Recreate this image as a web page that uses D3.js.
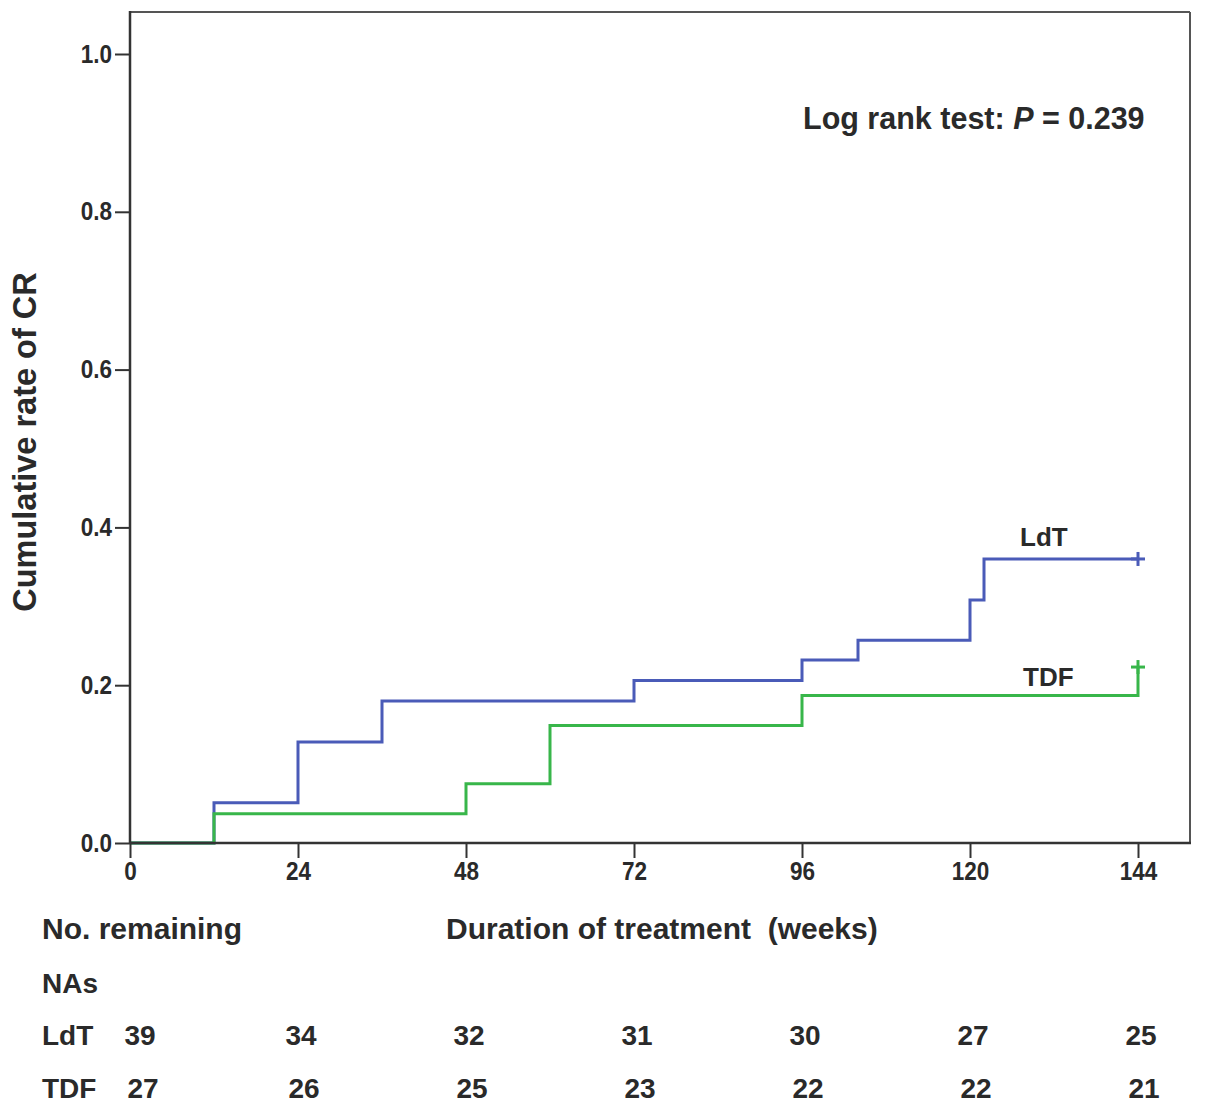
<!DOCTYPE html>
<html>
<head>
<meta charset="utf-8">
<script src="https://cdn.jsdelivr.net/npm/d3@7/dist/d3.min.js"></script>
<style>
  html, body { margin: 0; padding: 0; background: #fff; }
  svg { display: block; }
</style>
</head>
<body>
<svg id="chart" width="1205" height="1111"></svg>
<script>
// ---- data ----
const xTicks = [0, 24, 48, 72, 96, 120, 144];
const yTicks = [0.0, 0.2, 0.4, 0.6, 0.8, 1.0];

const ldtTimes = [0, 12, 24, 36, 72, 96, 104, 120, 122, 144];
const ldtRates = [0, 0.051, 0.128, 0.180, 0.206, 0.232, 0.257, 0.308, 0.360, 0.360];

const tdfTimes = [0, 12, 48, 60, 96, 144, 144];
const tdfRates = [0, 0.037, 0.075, 0.149, 0.187, 0.187, 0.223];

const ldtCensor = [144];
const ldtCensorRate = [0.360];
const tdfCensor = [144];
const tdfCensorRate = [0.223];

const riskTimes = [0, 24, 48, 72, 96, 120, 144];
const ldtAtRisk = [39, 34, 32, 31, 30, 27, 25];
const tdfAtRisk = [27, 26, 25, 23, 22, 22, 21];

const seriesNames = ["LdT", "TDF"];
const colors = ["#4a5bb8", "#38b64a"];

(function () {
// ---- layout ----
const svg = d3.select("#chart");
const pLeft = 130, pRight = 1190, pTop = 12, pBottom = 843;
const x = d3.scaleLinear().domain([0, 144]).range([130, 1138]);
const y = d3.scaleLinear().domain([0, 1]).range([843, 54]);

const textColor = "#2a2a2a";
const tickFont = "'Liberation Sans Narrow', 'Arial Narrow', 'Liberation Sans', sans-serif";
const mainFont = "'Liberation Sans', Arial, sans-serif";

// frame top/right
svg.append("line").attr("x1", pLeft).attr("x2", pRight).attr("y1", pTop).attr("y2", pTop)
  .attr("stroke", "#555").attr("stroke-width", 2);
svg.append("line").attr("x1", pRight).attr("x2", pRight).attr("y1", pTop).attr("y2", pBottom)
  .attr("stroke", "#555").attr("stroke-width", 2);

// curves
const line = d3.line().x(d => x(d[0])).y(d => y(d[1])).curve(d3.curveStepAfter);
const series = [
  d3.zip(ldtTimes, ldtRates),
  d3.zip(tdfTimes, tdfRates)
];
series.forEach((s, i) => {
  svg.append("path").datum(s).attr("d", line)
    .attr("fill", "none").attr("stroke", colors[i]).attr("stroke-width", 3);
});

// censor marks
const censors = [d3.zip(ldtCensor, ldtCensorRate), d3.zip(tdfCensor, tdfCensorRate)];
censors.forEach((c, i) => {
  c.forEach(d => {
    const cx = x(d[0]), cy = y(d[1]);
    svg.append("line").attr("x1", cx).attr("x2", cx).attr("y1", cy - 7).attr("y2", cy + 7)
      .attr("stroke", colors[i]).attr("stroke-width", 3);
    svg.append("line").attr("x1", cx - 7).attr("x2", cx + 7).attr("y1", cy).attr("y2", cy)
      .attr("stroke", colors[i]).attr("stroke-width", 3);
  });
});

// narrow-ify tick labels
function narrow(sel) {
  sel.each(function () {
    const w = this.getComputedTextLength();
    d3.select(this).attr("textLength", w * 0.9).attr("lengthAdjust", "spacingAndGlyphs");
  });
}

// axes
const yAxis = d3.axisLeft(y).tickValues(yTicks).tickFormat(d3.format(".1f")).tickSize(15).tickPadding(3);
const gy = svg.append("g").attr("transform", `translate(${pLeft},0)`).call(yAxis);
gy.select(".domain").remove();
gy.selectAll(".tick line").attr("stroke", "#333").attr("stroke-width", 2);
gy.selectAll(".tick text").attr("font-family", tickFont).attr("font-weight", "bold")
  .attr("font-size", 25).attr("fill", textColor).call(narrow);

const xAxis = d3.axisBottom(x).tickValues(xTicks).tickFormat(d3.format("d")).tickSize(15).tickPadding(4);
const gx = svg.append("g").attr("transform", `translate(0,${pBottom})`).call(xAxis);
gx.select(".domain").remove();
gx.selectAll(".tick line").attr("stroke", "#333").attr("stroke-width", 2);
gx.selectAll(".tick text").attr("font-family", tickFont).attr("font-weight", "bold")
  .attr("font-size", 25).attr("fill", textColor).call(narrow);

// axis lines
svg.append("line").attr("x1", pLeft).attr("x2", pLeft).attr("y1", pTop - 1).attr("y2", pBottom)
  .attr("stroke", "#333").attr("stroke-width", 2.5);
svg.append("line").attr("x1", pLeft).attr("x2", pRight + 1).attr("y1", pBottom).attr("y2", pBottom)
  .attr("stroke", "#333").attr("stroke-width", 2.5);

// y title
svg.append("text")
  .attr("transform", `translate(36,442) rotate(-90)`)
  .attr("text-anchor", "middle")
  .attr("font-family", mainFont).attr("font-weight", "bold").attr("font-size", 32.5)
  .attr("fill", textColor)
  .text("Cumulative rate of CR");

// log rank text
const lr = svg.append("text").attr("x", 803).attr("y", 129)
  .attr("font-family", mainFont).attr("font-weight", "bold").attr("font-size", 30.5)
  .attr("fill", textColor);
lr.append("tspan").text("Log rank test: ");
lr.append("tspan").attr("font-style", "italic").text("P");
lr.append("tspan").text(" = 0.239");

// series labels
svg.append("text").attr("x", 1020).attr("y", 546)
  .attr("font-family", mainFont).attr("font-weight", "bold").attr("font-size", 26)
  .attr("fill", textColor).text(seriesNames[0]);
svg.append("text").attr("x", 1023).attr("y", 686)
  .attr("font-family", mainFont).attr("font-weight", "bold").attr("font-size", 26)
  .attr("fill", textColor).text(seriesNames[1]);

// x title and table
const tf = (sel) => sel.attr("font-family", mainFont).attr("font-weight", "bold")
  .attr("font-size", 28).attr("fill", textColor);

svg.append("text").attr("x", 446).attr("y", 939).call(tf).attr("font-size", 30)
  .style("white-space", "pre")
  .text("Duration of treatment  (weeks)");
svg.append("text").attr("x", 42).attr("y", 939).call(tf).attr("font-size", 30).text("No. remaining");
svg.append("text").attr("x", 42).attr("y", 993).call(tf).text("NAs");
svg.append("text").attr("x", 42).attr("y", 1045).call(tf).text(seriesNames[0]);
svg.append("text").attr("x", 42).attr("y", 1098).call(tf).text(seriesNames[1]);

const rows = [[ldtAtRisk, 1045, 0], [tdfAtRisk, 1098, 3]];
rows.forEach(([vals, yy, off]) => {
  svg.selectAll(null).data(vals).enter().append("text")
    .attr("x", (d, i) => x(riskTimes[i]) + (i === 0 ? 10 : 3) + off)
    .attr("y", yy)
    .attr("text-anchor", "middle")
    .call(tf)
    .text(d => d);
});
})();
</script>
</body>
</html>
